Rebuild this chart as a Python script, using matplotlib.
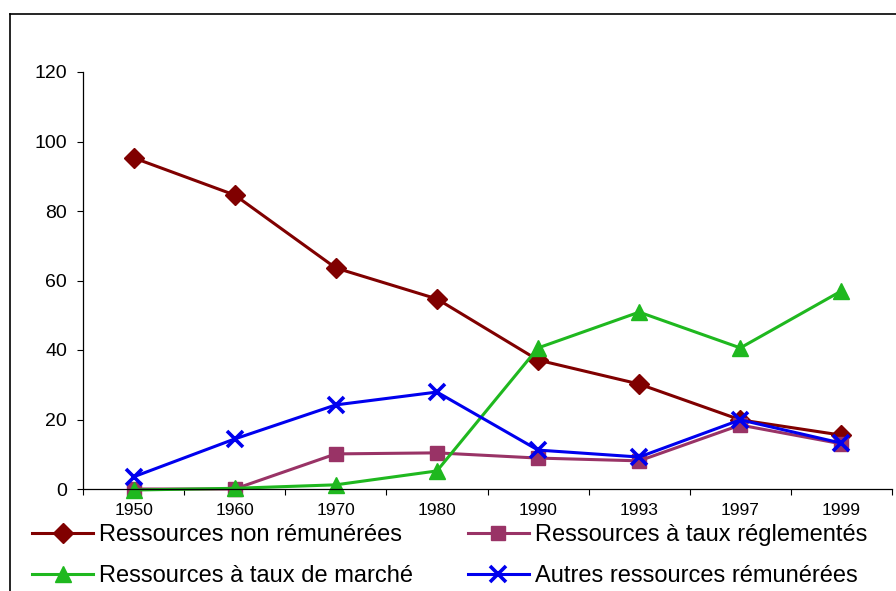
"""
Evolution des ressources (1950-1999)
"""
import matplotlib
matplotlib.use('Agg')
import matplotlib.pyplot as plt
from matplotlib.lines import Line2D
import numpy as np

plt.rcParams['font.family'] = ['Liberation Sans', 'DejaVu Sans']

years = ['1950', '1960', '1970', '1980', '1990', '1993', '1997', '1999']
non_remunerees = [95.3, 84.6, 63.6, 54.7, 37.1, 30.2, 19.9, 15.5]
taux_reglementes = [0.0, 0.0, 10.1, 10.4, 8.9, 8.1, 18.4, 13.0]
taux_marche = [-0.3, 0.2, 1.2, 5.2, 40.6, 50.9, 40.6, 57.0]
autres_remunerees = [3.5, 14.4, 24.2, 27.9, 11.2, 9.2, 19.9, 13.2]

fig = plt.figure(figsize=(8.96, 5.91), dpi=100)
ax = fig.add_axes([83 / 896, 1 - 489 / 591, (892 - 83) / 896, (489 - 72) / 591])

x = np.arange(len(years))
l1, = ax.plot(x, non_remunerees, marker='D', color='#800000', linewidth=2.2,
              markersize=10, clip_on=False, label='Ressources non rémunérées')
l2, = ax.plot(x, taux_reglementes, marker='s', color='#993366', linewidth=2.2,
              markersize=10, clip_on=False, label='Ressources à taux réglementés')
l3, = ax.plot(x, taux_marche, marker='^', color='#1fb81f', linewidth=2.2,
              markersize=12, clip_on=False, label='Ressources à taux de marché')
l4, = ax.plot(x, autres_remunerees, marker='x', color='#0000ee', linewidth=2.2,
              markersize=11, markeredgewidth=2.6, clip_on=False,
              label='Autres ressources rémunérées')

ax.set_xlim(-0.5, len(years) - 0.5)
ax.set_ylim(0, 120)
ax.set_yticks(range(0, 121, 20))
ax.tick_params(axis='y', labelsize=14, direction='out', length=4.5, width=0.8, pad=7)

# Excel-style: ticks between categories, labels at category centres
ax.set_xticks(x)
ax.set_xticklabels(years)
ax.set_xticks(np.arange(-0.5, len(years), 1), minor=True)
ax.tick_params(axis='x', which='major', length=0, labelsize=12.5, pad=10)
ax.tick_params(axis='x', which='minor', direction='out', length=4, width=0.8)

for side in ['top', 'right']:
    ax.spines[side].set_visible(False)
for side in ['left', 'bottom']:
    ax.spines[side].set_linewidth(0.9)

# row-wise order as in the original legend
fig.legend([l1, l3, l2, l4], [l.get_label() for l in (l1, l3, l2, l4)],
           loc='upper left', bbox_to_anchor=(32 / 896, 1 - 524 / 591), ncol=2,
           frameon=False, fontsize=17, handlelength=2.6, handletextpad=0.25,
           columnspacing=2.3, labelspacing=0.8, borderpad=0, borderaxespad=0)

# outer chart frame
fig.add_artist(Line2D([10 / 896, 1], [1 - 14 / 591, 1 - 14 / 591],
                      color='black', linewidth=1.2, transform=fig.transFigure))
fig.add_artist(Line2D([10 / 896, 10 / 896], [0, 1 - 14 / 591],
                      color='black', linewidth=1.2, transform=fig.transFigure))

fig.savefig('out.png', dpi=100)
